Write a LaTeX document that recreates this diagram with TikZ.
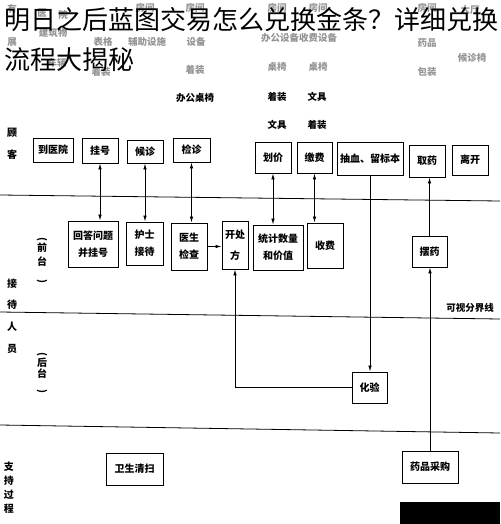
\documentclass[tikz,border=0pt]{standalone}
\usepackage{fontspec}
\setmainfont{Noto Sans CJK SC}
\usetikzlibrary{arrows.meta}

\begin{document}
\begin{tikzpicture}[x=1pt,y=-1pt,
        box/.style={draw,line width=0.9pt,inner sep=1pt,align=center,font=\bfseries\fontsize{10}{17}\selectfont},
        faded/.style={text=black!42,inner sep=0pt,font=\bfseries\fontsize{9.5}{11}\selectfont},
        tag/.style={inner sep=0pt,font=\bfseries\fontsize{9.5}{11}\selectfont},
        side/.style={inner sep=0pt,align=center,font=\bfseries\fontsize{10}{#1}\selectfont},
        >={Latex[length=6pt,width=3.5pt]}]
        \useasboundingbox (0,0) rectangle (500,524);

        \foreach \x/\y/\t [count=\i] in {12/9/有,12/42/展,42/13/医,63/15/院,53/33/建筑物,103/42/表格,57/63/车辆,101/72/着装,
            145/8/房间,147/42/辅助设施,195/8/房间,196/42/设备,195/70/着装,277/8/房间,318/8/房间,280/38/办公设备,
            318/38/收费设备,277/67/桌椅,318/67/桌椅,427/8/房间,470/10/大厅,427/43/药品,427/72/包装,472/58/候诊椅}
            \node[faded] (g\i) at (\x,\y) {\t};
        \foreach \x/\y/\t [count=\i] in {195/98/办公桌椅,277/97/着装,317/97/文具,277/125/文具,317/125/着装}
            \node[tag] (k\i) at (\x,\y) {\t};

        \node[side=22] (customer) at (12,144) {顾\\客};
        \node[side=14] (front) at (42,260) {\rotatebox{-90}{(}\\前\\台\\\rotatebox{-90}{)}};
        \node[side=21.7] (staff) at (12,316) {接\\待\\人\\员};
        \node[side=11.5] (back) at (42,373) {\rotatebox{-90}{(}\\后\\台\\\rotatebox{-90}{)}};
        \node[side=14] (support) at (9,488) {支\\持\\过\\程};

        \draw[line width=0.8pt] (0,195) -- (500,201);
        \draw[line width=0.8pt] (0,312) -- (500,319);
        \draw[line width=0.8pt] (0,425) -- (500,433);
        \node[tag] (visible) at (470,308) {可视分界线};

        \node[box,minimum width=40pt,minimum height=24pt] (arrive) at (53,150) {到医院};
        \node[box,minimum width=36pt,minimum height=25pt] (register) at (100,150.5) {挂号};
        \node[box,minimum width=36pt,minimum height=23pt] (wait) at (145,151.5) {候诊};
        \node[box,minimum width=37pt,minimum height=24pt] (exam) at (191.5,150) {检诊};
        \node[box,minimum width=36pt,minimum height=31pt] (price) at (273,157.5) {划价};
        \node[box,minimum width=35pt,minimum height=31pt] (pay) at (314.5,157.5) {缴费};
        \node[box,minimum width=66pt,minimum height=33pt] (blood) at (370,158.5) {抽血、留标本};
        \node[box,minimum width=36pt,minimum height=32pt] (fetch) at (427,161) {取药};
        \node[box,minimum width=36pt,minimum height=30pt] (leave) at (470,160) {离开};

        \node[box,minimum width=50pt,minimum height=46pt] (answer) at (93,244) {回答问题\\并挂号};
        \node[box,minimum width=37pt,minimum height=43pt] (nurse) at (144.5,243.5) {护士\\接待};
        \node[box,minimum width=36pt,minimum height=47pt] (doctor) at (189,246.5) {医生\\检查};
        \node[box,minimum width=26pt,minimum height=48pt,font=\bfseries\fontsize{10}{21}\selectfont] (prescribe) at (235,245) {开处\\方};
        \node[box,minimum width=50pt,minimum height=45pt] (count) at (278,247.5) {统计数量\\和价值};
        \node[box,minimum width=36pt,minimum height=45pt] (charge) at (325,245.5) {收费};
        \node[box,minimum width=35pt,minimum height=31pt] (dispense) at (429.5,251.5) {摆药};

        \node[box,minimum width=35pt,minimum height=31pt] (lab) at (369.5,387.5) {化验};
        \node[box,minimum width=57pt,minimum height=32pt] (clean) at (134.5,469) {卫生清扫};
        \node[box,minimum width=56pt,minimum height=32pt] (purchase) at (430,467) {药品采购};

        \foreach \a/\b in {register/answer,wait/nurse,exam/doctor,price/count,pay/charge}
            \draw[line width=0.8pt,<->] (\a.south) -- (\a.south |- \b.north);
        \draw[line width=0.8pt,->] (doctor.east) -- (doctor.east -| prescribe.west);
        \draw[line width=0.8pt,->] (blood.south) -- (blood.south |- lab.north);
        \draw[line width=0.8pt,->] (lab.west) -| (prescribe.south);
        \draw[line width=0.8pt,->] (purchase.north) -- (purchase.north |- dispense.south);
        \draw[line width=0.8pt,->] (dispense.north) -- (dispense.north |- fetch.south);

        \fill (400,502) rectangle (500,524);

        \node[anchor=base west,inner sep=0pt,font=\fontsize{26}{30}\selectfont] (title) at (4,30) {明日之后蓝图交易怎么兑换金条？详细兑换};
        \node[anchor=base west,inner sep=0pt,font=\fontsize{26}{30}\selectfont] (subtitle) at (4,70) {流程大揭秘};
    \end{tikzpicture}
\end{document}
